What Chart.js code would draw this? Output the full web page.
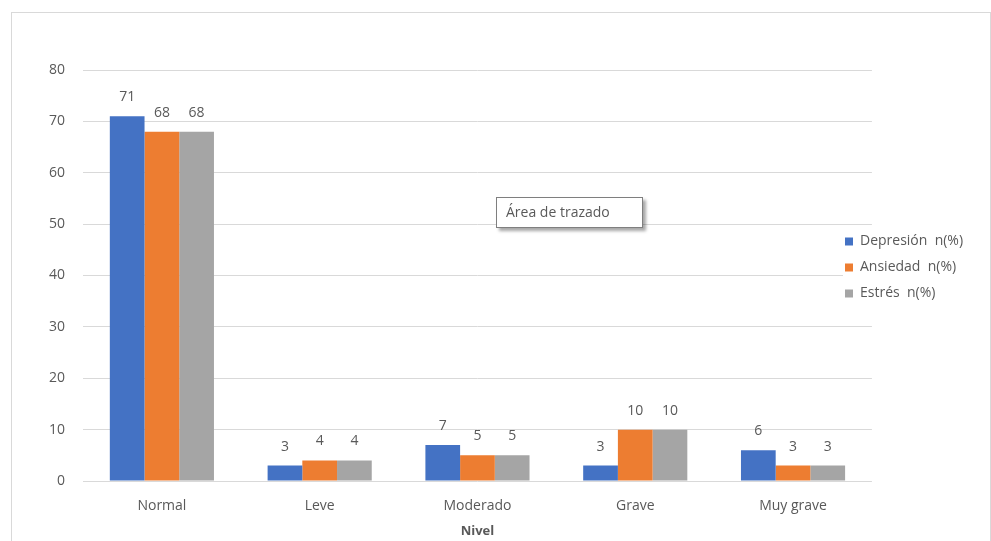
<!DOCTYPE html>
<html lang="es">
<head>
  <meta charset="UTF-8">
  <title>Nivel</title>
  <script src="https://cdn.jsdelivr.net/npm/chart.js"></script>
  <style>
    body { margin: 0; background: #fff; }
    #marco { position: relative; width: 991px; height: 541px; overflow: hidden; }
    #borde { position: absolute; left: 11px; top: 12px; width: 980px; height: 540px; border: 1px solid #d9d9d9; box-sizing: border-box; }
    #grafico { position: absolute; left: 0; top: 0; }
    #area { position: absolute; left: 496px; top: 197px; width: 147px; height: 31px; box-sizing: border-box;
      border: 1px solid #7f7f7f; background: #fff; box-shadow: 3px 3px 3px rgba(0,0,0,0.35);
      font: 14px "Open Sans", sans-serif; color: #595959; padding: 4px 0 0 9px; }
  </style>
</head>
<body>
  <div id="marco">
    <div id="borde"></div>
    <canvas id="grafico" width="991" height="541"></canvas>
    <div id="area">Área de trazado</div>
  </div>

<script>
  // datos
  const niveles = ['Normal', 'Leve', 'Moderado', 'Grave', 'Muy grave'];
  const depresion = [71, 3, 7, 3, 6];
  const ansiedad = [68, 4, 5, 10, 3];
  const estres = [68, 4, 5, 10, 3];
  const series = ['Depresión  n(%)', 'Ansiedad  n(%)', 'Estrés  n(%)'];
  const colores = ['#4472C4', '#ED7D31', '#A5A5A5'];

  const fuente = '"Open Sans", sans-serif';
  const gris = '#595959';

  // etiquetas encima de cada barra
  const etiquetas = {
    id: 'etiquetas',
    afterDatasetsDraw(chart) {
      const ctx = chart.ctx;
      ctx.save();
      ctx.font = '14px ' + fuente;
      ctx.fillStyle = gris;
      ctx.textAlign = 'center';
      ctx.textBaseline = 'bottom';
      chart.data.datasets.forEach(function (ds, i) {
        chart.getDatasetMeta(i).data.forEach(function (barra, j) {
          ctx.fillText(ds.data[j], barra.x, barra.y - 12);
        });
      });
      ctx.restore();
    }
  };

  // la leyenda va encima del area de trazado, como en Excel
  const leyenda = {
    id: 'leyenda',
    afterLayout(chart) {
      const l = chart.legend;
      const w = l.right - l.left;
      const h = l.bottom - l.top;
      l.left = 833;
      l.right = l.left + w;
      l.top = 267.5 - h / 2;
      l.bottom = l.top + h;
    },
    afterDraw(chart) {
      const ctx = chart.ctx;
      ctx.save();
      ctx.fillStyle = '#fff';
      ctx.fillRect(843, 229, 146, 76);
      ctx.restore();
      chart.legend.draw();
    }
  };

  new Chart(document.getElementById('grafico'), {
    type: 'bar',
    data: {
      labels: niveles,
      datasets: [
        { label: series[0], data: depresion, backgroundColor: colores[0] },
        { label: series[1], data: ansiedad, backgroundColor: colores[1] },
        { label: series[2], data: estres, backgroundColor: colores[2] }
      ]
    },
    options: {
      responsive: false,
      animation: false,
      layout: { padding: { left: 48, top: 70, right: -21, bottom: 0 } },
      datasets: { bar: { categoryPercentage: 0.66, barPercentage: 1 } },
      plugins: {
        tooltip: { enabled: false },
        legend: {
          position: 'right',
          labels: {
            boxWidth: 8, boxHeight: 8, padding: 12,
            color: gris,
            font: { family: fuente, size: 14 }
          }
        }
      },
      scales: {
        y: {
          min: 0, max: 80,
          afterFit(scale) { scale.width = 35; },
          ticks: { stepSize: 10, color: gris, padding: 18, font: { family: fuente, size: 14 } },
          grid: { color: '#d9d9d9', drawTicks: false },
          border: { display: false }
        },
        x: {
          afterFit(scale) { scale.height = 60; },
          ticks: { color: gris, padding: 9, font: { family: fuente, size: 14 } },
          grid: { display: false },
          border: { display: false },
          title: { display: true, text: 'Nivel', color: gris, padding: { top: 10, bottom: 2 }, font: { family: fuente, size: 13, weight: 'bold' } }
        }
      }
    },
    plugins: [etiquetas, leyenda]
  });
</script>
</body>
</html>
